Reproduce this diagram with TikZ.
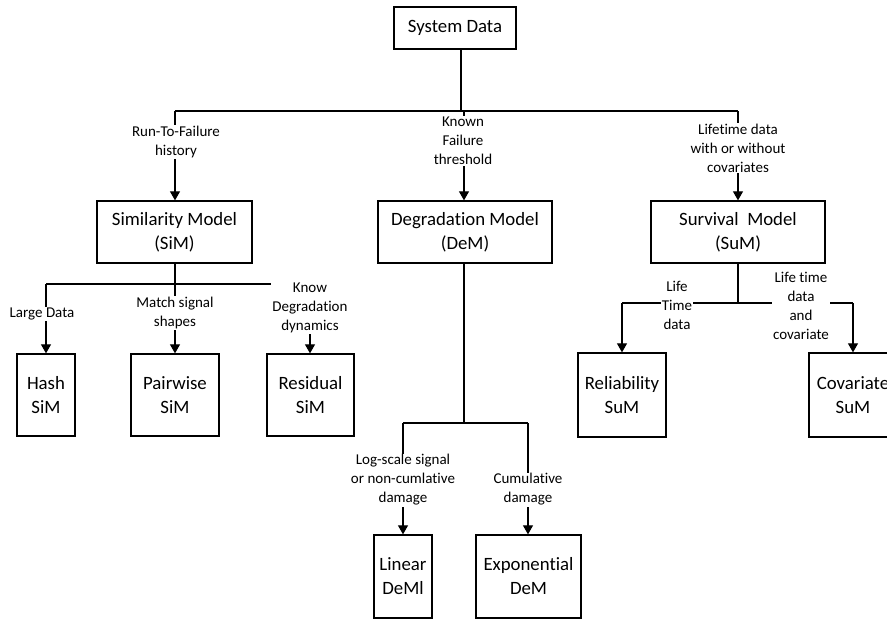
\documentclass[tikz,border=0pt]{standalone}
\usepackage{fontspec}
\setmainfont{Carlito}[Ligatures=NoCommon]
\usetikzlibrary{arrows.meta}
\begin{document}
\begin{tikzpicture}[x=1pt,y=-1pt,
  box/.style={draw,line width=1.3pt,align=center,inner sep=0pt,
    font=\fontsize{18.8}{24}\selectfont},
  lbl/.style={fill=white,align=center,inner sep=1pt,
    font=\fontsize{15}{19}\selectfont},
  link/.style={line width=1.1pt},
  arr/.style={link,-{Triangle[width=10pt,length=9pt]}}]
\useasboundingbox (0,0) rectangle (887,619);

% model boxes
\node[box,minimum width=122pt,minimum height=42pt] (sys) at (455,28) {System Data};
\node[box,minimum width=155pt,minimum height=62pt] (sim) at (174.5,232) {Similarity Model\\(SiM)};
\node[box,minimum width=174pt,minimum height=62pt] (dem) at (465,232) {Degradation Model\\(DeM)};
\node[box,minimum width=174pt,minimum height=62pt] (sum) at (738,232) {Survival\ \ Model\\(SuM)};

\node[box,minimum width=58pt,minimum height=82pt] (hash) at (46,395) {Hash\\SiM};
\node[box,minimum width=88pt,minimum height=82pt] (pair) at (175,395) {Pairwise\\SiM};
\node[box,minimum width=87pt,minimum height=82pt] (resid) at (310.5,395) {Residual\\SiM};

\node[box,minimum width=88pt,minimum height=84pt] (rel) at (622,395) {Reliability\\SuM};
\node[box,minimum width=88pt,minimum height=84pt] (cov) at (853,395) {Covariate\\SuM};

\node[box,minimum width=58pt,minimum height=83pt] (lin) at (403,576.5) {Linear\\DeMl};
\node[box,minimum width=105pt,minimum height=83pt] (expo) at (528.5,576.5) {Exponential\\DeM};

% junction points
\coordinate (top) at (461,111);
\coordinate (topL) at (175,111);
\coordinate (topM) at (464,111);
\coordinate (topR) at (738,111);
\coordinate (simJ) at (175,284);
\coordinate (simL) at (46,284);
\coordinate (simR) at (310,284);
\coordinate (sumJ) at (738,303);
\coordinate (sumL) at (622,303);
\coordinate (sumR) at (853,303);
\coordinate (demJ) at (464,423);
\coordinate (demL) at (403,423);
\coordinate (demR) at (528,423);

% connectors
\draw[link] (sys.south -| top) -- (top);
\draw[link] (topL) -- (topR);
\draw[arr] (topL) -- (sim.north -| topL);
\draw[arr] (topM) -- (dem.north -| topM);
\draw[arr] (topR) -- (sum.north -| topR);

\draw[link] (sim.south -| simJ) -- (simJ);
\draw[link] (simL) -- (simR);
\draw[arr] (simL) -- (hash.north -| simL);
\draw[arr] (simJ) -- (pair.north -| simJ);
\draw[arr] (simR) -- (resid.north -| simR);

\draw[link] (sum.south -| sumJ) -- (sumJ);
\draw[link] (sumL) -- (sumR);
\draw[arr] (sumL) -- (rel.north -| sumL);
\draw[arr] (sumR) -- (cov.north -| sumR);

\draw[link] (dem.south -| demJ) -- (demJ);
\draw[link] (demL) -- (demR);
\draw[arr] (demL) -- (lin.north -| demL);
\draw[arr] (demR) -- (expo.north -| demR);

% connector labels
\node[lbl] (l1) at (176,142) {Run-To-Failure\\history};
\node[lbl] (l2) at (463,141) {Known\\Failure\\threshold};
\node[lbl] (l3) at (738,148) {Lifetime data\\with or without\\covariates};
\node[lbl] (l4) at (42,314) {Large Data};
\node[lbl] (l5) at (175,313) {Match signal\\shapes};
\node[lbl] (l6) at (310,308) {Know\\Degradation\\dynamics};
\node[lbl] (l7) at (677,305) {Life\\Time\\data};
\node[lbl] (l8) at (801,306) {Life time\\data\\and\\covariate};
\node[lbl] (l9) at (403,480) {Log-scale signal\\or non-cumlative\\damage};
\node[lbl] (l10) at (528,489.5) {Cumulative\\damage};
\end{tikzpicture}
\end{document}
